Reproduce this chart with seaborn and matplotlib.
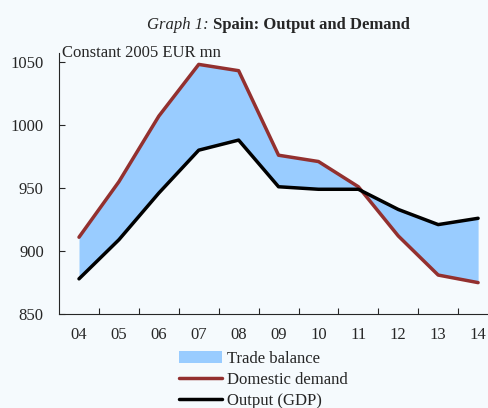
import matplotlib.pyplot as plt
import seaborn as sns
import pandas as pd
from matplotlib.patches import Patch
from matplotlib.lines import Line2D

years = ["04", "05", "06", "07", "08", "09", "10", "11", "12", "13", "14"]
domestic_demand = [911, 955, 1007, 1048, 1043, 976, 971, 951, 912, 881, 875]
output_gdp = [878, 909, 946, 980, 988, 951, 949, 949, 933, 921, 926]

bg = "#F5FAFD"
red = "#93302F"
blue = "#99CCFF"

sns.set_style("ticks")
plt.rcParams["font.family"] = ["Liberation Serif", "DejaVu Serif"]
plt.rcParams["font.size"] = 12

df = pd.DataFrame({"pos": range(len(years)), "demand": domestic_demand, "gdp": output_gdp})

fig = plt.figure(figsize=(4.88, 4.08), dpi=100, facecolor=bg)
ax = fig.add_axes([0.121, 0.230, 0.8996, 0.640])
ax.set_facecolor(bg)

# trade balance = gap between demand and output
ax.fill_between(df["pos"], df["demand"], df["gdp"], color=blue, lw=0)
sns.lineplot(data=df, x="pos", y="demand", color=red, lw=2.5, ax=ax)
sns.lineplot(data=df, x="pos", y="gdp", color="black", lw=2.5, ax=ax)

ax.set_xlim(-0.5, len(years) - 0.5)
ax.set_ylim(850, 1057)
ax.set_yticks([850, 900, 950, 1000, 1050])
ax.set_xticks(range(len(years)))
ax.set_xticklabels(years)
ax.set_xticks([i + 0.5 for i in range(len(years) - 1)], minor=True)
ax.tick_params(axis="x", which="major", length=0, pad=9, labelsize=12)
ax.tick_params(axis="x", which="minor", direction="in", length=4, width=0.8)
ax.tick_params(axis="y", direction="in", length=4, width=0.8, pad=11, labelsize=12)
ax.set_xlabel("")
ax.set_ylabel("")
sns.despine(ax=ax)
for s in ["left", "bottom"]:
    ax.spines[s].set_linewidth(0.8)

ax.text(0.007, 1.0, "Constant 2005 EUR mn", transform=ax.transAxes,
        ha="left", va="center", fontsize=12)

fig.text(0.427, 0.939, "Graph 1:", ha="right", va="center", fontsize=12, style="italic")
fig.text(0.437, 0.939, "Spain: Output and Demand", ha="left", va="center",
         fontsize=12, fontweight="bold")

handles = [Patch(facecolor=blue, edgecolor="none"),
           Line2D([], [], color=red, lw=2.5),
           Line2D([], [], color="black", lw=2.5)]
labels = ["Trade balance", "Domestic demand", "Output (GDP)"]
fig.legend(handles, labels, loc="upper left", bbox_to_anchor=(0.366, 0.14),
           frameon=False, fontsize=12, handlelength=2.6, handletextpad=0.3,
           labelspacing=0.3, borderpad=0, borderaxespad=0)

fig.savefig("out.png", dpi=100, facecolor=bg)
